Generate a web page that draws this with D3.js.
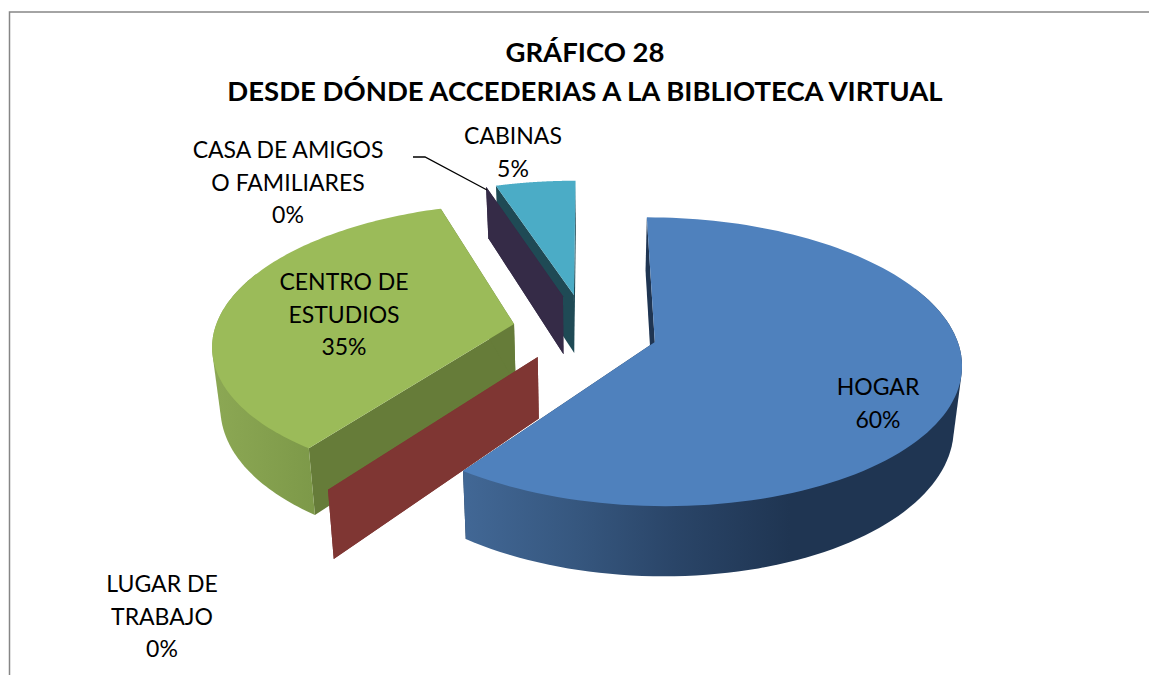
<!DOCTYPE html>
<html><head><meta charset="utf-8">
<script src="https://cdn.jsdelivr.net/npm/d3@7/dist/d3.min.js"></script>
<style>html,body{margin:0;padding:0;background:#fff}svg{display:block}text{font-family:Lato,"Open Sans",sans-serif;fill:#000}</style>
</head><body><div id="chart"></div>
<script>
// Data
const categories = ["HOGAR","LUGAR DE TRABAJO","CENTRO DE ESTUDIOS","CASA DE AMIGOS O FAMILIARES","CABINAS"];
const values = [60,0,35,0,5];
const titleLines = ["GRÁFICO 28","DESDE DÓNDE ACCEDERIAS A LA BIBLIOTECA VIRTUAL"];
const labelLines = [["HOGAR"],["LUGAR DE","TRABAJO"],["CENTRO DE","ESTUDIOS"],["CASA DE AMIGOS","O FAMILIARES"],["CABINAS"]];
const topColors = ["#4f81bd","#c0504d","#9bbb59","#8064a2","#4bacc6"];
const cutColors = ["#1f3552","#7f3633","#667c39","#352b47","#1f4a55"];
// Layout
const W=1149,H=675;
const cx=588,cy=332,R=300,Rt=139,K=0.135,D=60,B=0.022;
const explode=[0.232,0.24,0.255,0.28,0.28];
const explodeTurn=[0,7,4,0,-1];
const drawOrder=[4,3,2,1,0];
const labelPos=[[878,395],[162,592],[344,290],[288,158],[513,144]];
const lineH=32.5;

const svg=d3.select("#chart").append("svg").attr("width",W).attr("height",H);
const defs=svg.append("defs");
function grad(id,x1,x2,stops){
  const g=defs.append("linearGradient").attr("id",id).attr("gradientUnits","userSpaceOnUse")
    .attr("x1",x1).attr("x2",x2).attr("y1",0).attr("y2",0);
  stops.forEach(s=>g.append("stop").attr("offset",s[0]).attr("stop-color",s[1]));
}
grad("wall0",460,790,[[0,"#426896"],[0.35,"#36577f"],[0.65,"#2a4568"],[1,"#1f3552"]]);
grad("wall2",212,320,[[0,"#8ca854"],[1,"#7c9848"]]);
const outerFill=["url(#wall0)",cutColors[1],"url(#wall2)",cutColors[3],cutColors[4]];

svg.append("path").attr("d",d3.line()([[W,12],[9.5,12],[9.5,H]])).attr("fill","none").attr("stroke","#868686").attr("stroke-width",1.5);

const pie=d3.pie().sort(null).startAngle(0).endAngle(2*Math.PI);
const arcs=pie(values);
function project(u,v,z){
  const w=1+K*v;
  return [cx+R*u/w*(1-z*B), cy-Rt*v/w+z*D/w];
}
const line=d3.line();
drawOrder.forEach(i=>{
  const a=arcs[i], mid=(a.startAngle+a.endAngle)/2+explodeTurn[i]*Math.PI/180;
  const ou=explode[i]*Math.sin(mid), ov=explode[i]*Math.cos(mid);
  const pt=(r,t,z)=>project(ou+r*Math.sin(t),ov+r*Math.cos(t),z);
  const angles=d3.range(0,121).map(k=>a.startAngle+(a.endAngle-a.startAngle)*k/120);
  const g=svg.append("g").attr("class","slice");
  const wall=(t,fill)=>g.append("path")
    .attr("d",line([pt(0,t,0),pt(1,t,0),pt(1,t,1),pt(0,t,1)])+"Z").attr("fill",fill);
  wall(a.startAngle,cutColors[i]);
  wall(a.endAngle,cutColors[i]);
  if(a.value>0){
    const front=angles.filter(t=>Math.cos(t)<0.4);
    if(front.length>2){
      const hull=d3.polygonHull(front.map(t=>pt(1,t,0)).concat(front.map(t=>pt(1,t,1))));
      g.append("path").attr("d",line(hull)+"Z").attr("fill",outerFill[i]);
    }
    g.append("path").attr("d",line([pt(0,0,0)].concat(angles.map(t=>pt(1,t,0))))+"Z").attr("fill",topColors[i]);
  }
});

// leader line
svg.append("path").attr("d",d3.line()([[413,157],[425,157],[487,190]])).attr("fill","none").attr("stroke","#000").attr("stroke-width",1.3);

const title=svg.append("text").attr("text-anchor","middle").attr("font-weight",700).attr("font-size",27.5);
titleLines.forEach((t,i)=>title.append("tspan").attr("x",585).attr("y",62+i*39).text(t));
categories.forEach((c,i)=>{
  const t=svg.append("text").attr("text-anchor","middle").attr("font-size",23);
  const lines=labelLines[i].concat([values[i]+"%"]);
  lines.forEach((l,j)=>t.append("tspan").attr("x",labelPos[i][0]).attr("y",labelPos[i][1]+j*lineH).text(l));
});
</script></body></html>
